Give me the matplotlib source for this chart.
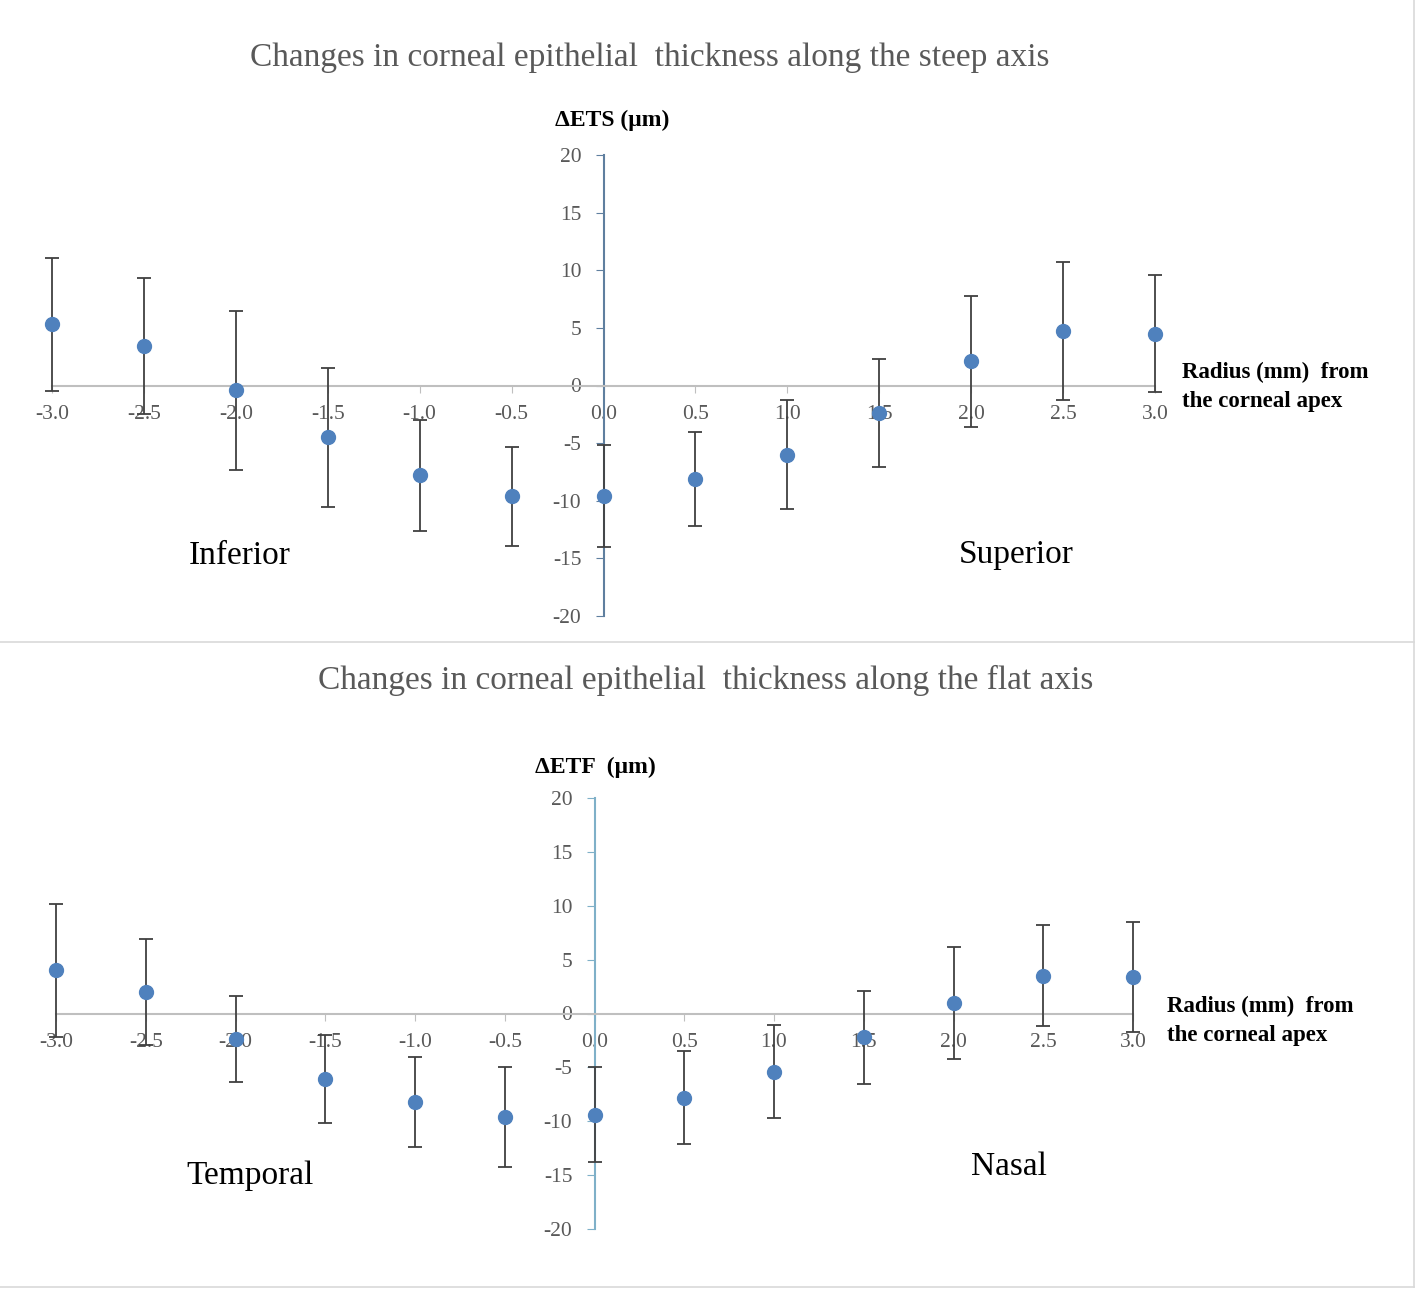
import matplotlib.pyplot as plt
from matplotlib.lines import Line2D
import numpy as np

plt.rcParams['font.family'] = ['Liberation Serif', 'DejaVu Serif']
plt.rcParams['axes.unicode_minus'] = False

radius = [-3.0, -2.5, -2.0, -1.5, -1.0, -0.5, 0.0, 0.5, 1.0, 1.5, 2.0, 2.5, 3.0]
xticklabels = ['-3.0', '-2.5', '-2.0', '-1.5', '-1.0', '-0.5', '0.0',
               '0.5', '1.0', '1.5', '2.0', '2.5', '3.0']
yticks = [-20, -15, -10, -5, 0, 5, 10, 15, 20]

# steep axis (delta ETS)
ets_mean = [5.3, 3.4, -0.4, -4.5, -7.8, -9.6, -9.6, -8.1, -6.0, -2.4, 2.1, 4.7, 4.5]
ets_sd = [5.8, 5.9, 6.9, 6.0, 4.8, 4.3, 4.4, 4.1, 4.7, 4.7, 5.7, 6.0, 5.1]

# flat axis (delta ETF)
etf_mean = [4.0, 2.0, -2.4, -6.1, -8.2, -9.6, -9.4, -7.8, -5.4, -2.2, 1.0, 3.5, 3.4]
etf_sd = [6.2, 4.9, 4.0, 4.1, 4.2, 4.6, 4.4, 4.3, 4.3, 4.3, 5.2, 4.7, 5.1]

fig = plt.figure(figsize=(14.18, 12.93), dpi=100)

grey_txt = '#595959'


def panel(rect, mean, sd, title, title_xy, ylab, ylab_xy, rad_xy,
          left_lab, left_xy, right_lab, right_xy, ycol):
    ax = fig.add_axes(rect)
    ax.errorbar(radius, mean, yerr=sd, fmt='none', ecolor='#404040',
                elinewidth=1.3, capsize=5, capthick=1.3, clip_on=False, zorder=3)
    ax.plot(radius, mean, 'o', color='#4f81bd', markersize=10,
            clip_on=False, zorder=4)
    ax.set_xlim(-3, 3)
    ax.set_ylim(-20, 20)
    ax.spines['top'].set_visible(False)
    ax.spines['right'].set_visible(False)
    ax.spines['left'].set_position(('data', 0))
    ax.spines['bottom'].set_position(('data', 0))
    ax.spines['left'].set_color(ycol)
    ax.spines['left'].set_linewidth(1.5)
    ax.spines['bottom'].set_color('#bfbfbf')
    ax.spines['bottom'].set_linewidth(1.5)
    ax.set_xticks(radius)
    ax.set_xticklabels(xticklabels)
    ax.set_yticks(yticks)
    ax.tick_params(axis='x', direction='out', length=5, color='#bfbfbf',
                   labelsize=15.5, labelcolor=grey_txt, pad=9)
    ax.tick_params(axis='y', direction='out', length=6, color=ycol,
                   labelsize=15.5, labelcolor=grey_txt, pad=10)
    ax.patch.set_alpha(0)
    fig.text(title_xy[0], title_xy[1], title, ha='center', va='center',
             fontsize=24, color=grey_txt)
    fig.text(ylab_xy[0], ylab_xy[1], ylab, ha='center', va='center',
             fontsize=17, fontweight='bold', color='black')
    fig.text(rad_xy[0], rad_xy[1], 'Radius (mm)  from\nthe corneal apex',
             ha='left', va='center', fontsize=16.5, fontweight='bold',
             color='black', linespacing=1.55)
    fig.text(left_xy[0], left_xy[1], left_lab, ha='center', va='center',
             fontsize=24, color='black')
    fig.text(right_xy[0], right_xy[1], right_lab, ha='center', va='center',
             fontsize=24, color='black')
    return ax


W, H = 1418.0, 1293.0

panel([52 / W, 1 - 616 / H, (1155 - 52) / W, (616 - 155) / H],
      ets_mean, ets_sd,
      'Changes in corneal epithelial  thickness along the steep axis',
      (650 / W, 1 - 58 / H),
      '\u0394ETS (\u03bcm)', (612 / W, 1 - 120 / H),
      (1182 / W, 1 - 387 / H),
      'Inferior', (240 / W, 1 - 556 / H),
      'Superior', (1016 / W, 1 - 555 / H),
      '#5f7f9f')

panel([56 / W, 1 - 1229 / H, (1133 - 56) / W, (1229 - 798) / H],
      etf_mean, etf_sd,
      'Changes in corneal epithelial  thickness along the flat axis',
      (706 / W, 1 - 680 / H),
      '\u0394ETF  (\u03bcm)', (595 / W, 1 - 767 / H),
      (1167 / W, 1 - 1021 / H),
      'Temporal', (250 / W, 1 - 1176 / H),
      'Nasal', (1009 / W, 1 - 1167 / H),
      '#7fb0c8')

# panel borders
fig.add_artist(Line2D([0, 1414 / W], [1 - 642 / H, 1 - 642 / H], color='#d9d9d9', lw=1.2))
fig.add_artist(Line2D([0, 1414 / W], [1 - 1287 / H, 1 - 1287 / H], color='#d9d9d9', lw=1.2))
fig.add_artist(Line2D([1414 / W, 1414 / W], [1 - 1287 / H, 1], color='#d9d9d9', lw=1.2))

fig.savefig('out.png', dpi=100, facecolor='white')
